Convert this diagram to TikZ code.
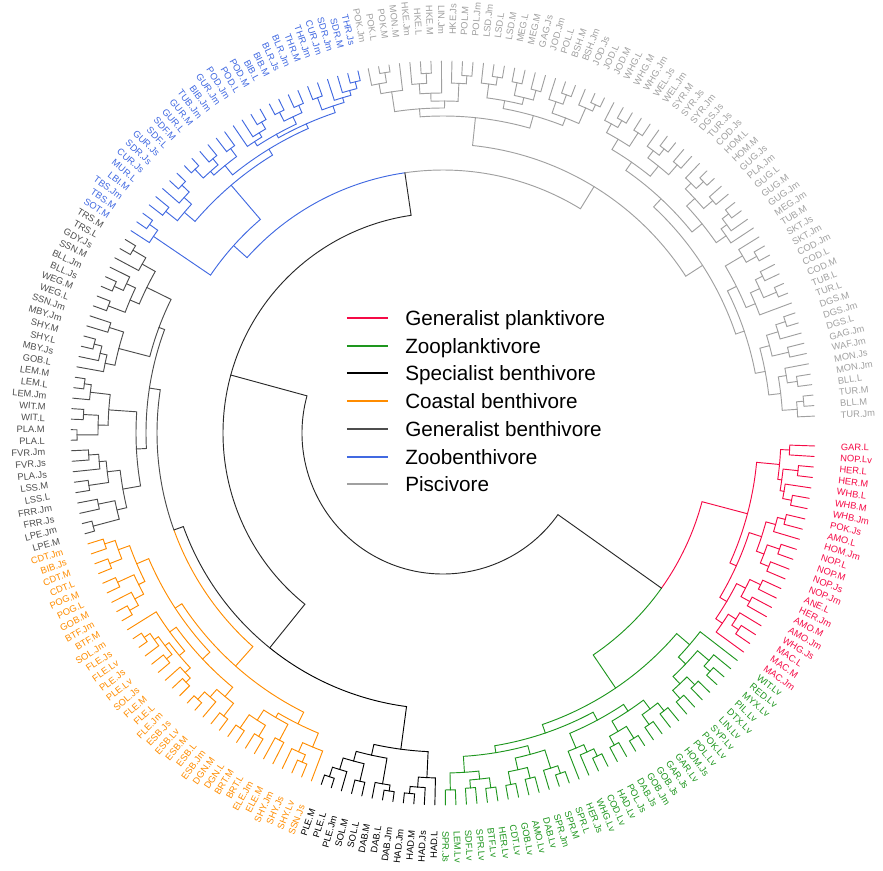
\documentclass[tikz,border=0pt]{standalone}
\usepackage{fontspec}
\setmainfont{Liberation Sans}
\definecolor{cR}{RGB}{245,10,70}
\definecolor{cG}{RGB}{30,150,30}
\definecolor{cK}{RGB}{0,0,0}
\definecolor{cO}{RGB}{255,140,0}
\definecolor{cD}{RGB}{77,77,77}
\definecolor{cB}{RGB}{65,105,225}
\definecolor{cP}{RGB}{160,160,160}
\definecolor{kk}{RGB}{40,40,40}
\newcount\lfc
\newcommand\LF[2]{%
 \pgfmathsetmacro\lfA{-2.0-1.6228*\the\lfc}%
 \expandafter\xdef\csname tA@\the\lfc\endcsname{\lfA}%
 \expandafter\xdef\csname tR@\the\lfc\endcsname{372}%
 \expandafter\xdef\csname tC@\the\lfc\endcsname{#2}%
 \pgfmathsetmacro\lfN{mod(\lfA+720,360)}%
 \ifdim\lfN pt>90pt\relax
   \ifdim\lfN pt<270pt\relax
     \pgfmathsetmacro\lfR{\lfN+180}\def\lfX{east}%
   \else \let\lfR\lfN\def\lfX{west}\fi
 \else \let\lfR\lfN\def\lfX{west}\fi
 \node[lab,text=#2,rotate=\lfR,anchor=\lfX] (L\the\lfc) at (\lfA:398) {#1};
 \global\advance\lfc by 1\relax
}
\def\cc{kk}
\newcommand\MG[4]{%
 \edef\mgA{\csname tA@#2\endcsname}%
 \edef\mgB{\csname tA@#3\endcsname}%
 \edef\mgRa{\csname tR@#2\endcsname}%
 \edef\mgRb{\csname tR@#3\endcsname}%
 \edef\mgCa{\csname tC@#2\endcsname}%
 \edef\mgCb{\csname tC@#3\endcsname}%
 \pgfmathsetmacro\mgM{(\mgA+\mgB)/2}%
 \draw[br,draw=\mgCa] (\mgA:\mgRa) -- (\mgA:#4) arc[start angle=\mgA,end angle=\mgM,radius=#4];
 \draw[br,draw=\mgCb] (\mgM:#4) arc[start angle=\mgM,end angle=\mgB,radius=#4] -- (\mgB:\mgRb);
 \expandafter\xdef\csname tA@#1\endcsname{\mgM}%
 \expandafter\xdef\csname tR@#1\endcsname{#4}%
 \expandafter\xdef\csname tC@#1\endcsname{\cc}%
}
\tikzset{
 lab/.style={font=\fontsize{7}{8}\selectfont,inner sep=0pt},
 br/.style={line width=0.7pt,line cap=round},
 lgline/.style={line width=2pt},
 lgtext/.style={font=\fontsize{15.5}{18}\selectfont,inner sep=0pt,anchor=base west}
}
\begin{document}
\begin{tikzpicture}[x=0.75pt,y=0.75pt]
\path[use as bounding box] (-443,-438) rectangle (440,433);
% ---- leaves
\foreach \t in {GAR.L,NOP.Lv,HER.L,HER.M,WHB.L,WHB.M,WHB.Jm,POK.Js,AMO.L,HOM.Jm,NOP.L,NOP.M,NOP.Js,NOP.Jm,ANE.L,HER.Jm,AMO.M,AMO.Jm,WHG.Js,MAC.L,MAC.M,MAC.Jm}{\LF{\t}{cR}}
\foreach \t in {WIT.Lv,RED.Lv,MYX.Lv,PIL.Lv,DTX.Lv,LIN.Lv,SYP.Lv,POK.Lv,POL.Lv,HOM.Js,GAR.Lv,GAR.Js,GOB.Js,GOB.Jm,DAB.Js,POL.Js,HAD.Lv,COD.Lv,WHG.Lv,HER.Js,SPR.L,SPR.M,SPR.Jm,DAB.Lv,AMO.Lv,GOB.Lv,CDT.Lv,HER.Lv,BTF.Lv,SPR.Lv,SDF.Lv,LEM.Lv,SPR.Js}{\LF{\t}{cG}}
\foreach \t in {HAD.L,HAD.Js,HAD.M,HAD.Jm,DAB.Jm,DAB.L,DAB.M,SOL.L,SOL.M,PLE.Jm,PLE.L,PLE.M}{\LF{\t}{cK}}
\foreach \t in {SSN.Js,SHY.Lv,SHY.Js,SHY.Jm,ELE.M,ELE.Jm,BRT.L,BRT.M,DGN.L,DGN.M,ESB.Jm,ESB.L,ESB.M,ESB.Lv,ESB.Js,FLE.Jm,FLE.L,FLE.M,SOL.Js,PLE.Lv,PLE.Js,FLE.Lv,FLE.Js,SOL.Jm,BTF.M,BTF.Jm,GOB.M,POG.L,POG.M,CDT.L,CDT.M,BIB.Js,CDT.Jm}{\LF{\t}{cO}}
\foreach \t in {LPE.M,LPE.Jm,FRR.Js,FRR.Jm,LSS.L,LSS.M,PLA.Js,FVR.Js,FVR.Jm,PLA.L,PLA.M,WIT.L,WIT.M,LEM.Jm,LEM.L,LEM.M,GOB.L,MBY.Js,SHY.L,SHY.M,MBY.Jm,SSN.Jm,WEG.L,WEG.M,BLL.Js,BLL.Jm,SSN.M,GDY.Js,TRS.L,TRS.M}{\LF{\t}{cD}}
\foreach \t in {SOT.M,TBS.M,TBS.Jm,LBI.M,MUR.L,CUR.Js,SDR.Js,GUR.Js,SDF.L,SDF.M,GUR.L,GUR.M,TUB.Jm,BIB.Jm,GUR.Jm,POD.Jm,POD.L,POD.M,BIB.L,BIB.M,BLR.Js,BLR.Jm,THR.M,THR.Jm,CUR.Jm,SDR.Jm,SDR.M,THR.Js}{\LF{\t}{cB}}
\foreach \t in {POK.Jm,POK.L,POK.M,MON.M,HKE.Jm,HKE.L,HKE.M,LIN.Jm,HKE.Js,POL.M,POL.Jm,LSD.Jm,LSD.L,LSD.M,MEG.L,MEG.M,GAG.Js,JOD.Jm,POL.L,BSH.M,BSH.Jm,JOD.Js,JOD.L,JOD.M,WHG.L,WHG.M,WHG.Jm,WEL.Js,WEL.Jm,SYR.M,SYR.Js,SYR.Jm,DGS.Js,TUR.Js,COD.Js,HOM.L,HOM.M,GUG.Js,PLA.Jm,GUG.L,GUG.M,GUG.Jm,MEG.Jm,TUB.M,SKT.Js,SKT.Jm,COD.Jm,COD.L,COD.M,TUB.L,TUR.L,DGS.M,DGS.Jm,DGS.L,GAG.Jm,WAF.Jm,MON.Js,MON.Jm,BLL.L,TUR.M,BLL.M,TUR.Jm}{\LF{\t}{cP}}
% ---- red
\def\cc{cR}
\MG{ra}{0}{1}{347}\MG{rb}{2}{3}{357}\MG{rc}{5}{6}{355}\MG{rd}{4}{rc}{346}
\MG{re}{rb}{rd}{342}\MG{rA}{ra}{re}{338}
\MG{rf}{7}{8}{353}\MG{rg}{rf}{9}{345}\MG{rh}{10}{11}{356}\MG{ri}{12}{13}{352}
\MG{rj}{rh}{ri}{343}\MG{rB}{rg}{rj}{335}
\MG{rk}{14}{15}{352}\MG{rl}{16}{17}{350}\MG{rm}{rk}{rl}{340}
\MG{rn}{19}{20}{355}\MG{ro}{18}{rn}{347}\MG{rp}{ro}{21}{338}
\MG{rC}{rm}{rp}{330}\MG{rBC}{rB}{rC}{322}\MG{RED}{rA}{rBC}{315}
% ---- green
\def\cc{cG}
\MG{ga}{24}{25}{358}\MG{gb}{23}{ga}{350}\MG{gc}{26}{27}{356}\MG{gd}{28}{29}{356}
\MG{ge}{gc}{gd}{345}\MG{gf}{gb}{ge}{335}\MG{gA}{22}{gf}{325}
\MG{gg}{30}{31}{355}\MG{gh}{32}{33}{357}\MG{gi}{gg}{gh}{345}
\MG{gj}{34}{35}{360}\MG{gk}{36}{37}{356}\MG{gl}{gj}{gk}{346}\MG{gm}{gi}{gl}{334}
\MG{gn}{38}{39}{358}\MG{go}{gn}{40}{350}\MG{gp}{go}{41}{342}\MG{gB}{gm}{gp}{326}
\MG{gq}{42}{43}{360}\MG{gr}{gq}{44}{352}\MG{gs}{45}{46}{356}\MG{gt}{47}{48}{358}
\MG{gu}{gs}{gt}{345}\MG{gv}{gr}{gu}{333}
\MG{gw}{49}{50}{358}\MG{gx}{51}{52}{356}\MG{gy}{gw}{gx}{348}\MG{gz}{53}{54}{357}
\MG{gzz}{gy}{gz}{340}\MG{gC}{gv}{gzz}{324}\MG{gBC}{gB}{gC}{317}\MG{GREEN}{gA}{gBC}{308}
% ---- black
\def\cc{cK}
\MG{ka}{57}{58}{362}\MG{kb}{56}{ka}{355}\MG{kH}{55}{kb}{345}
\MG{kc}{59}{60}{362}\MG{kD}{kc}{61}{356}
\MG{kd}{62}{63}{358}\MG{ke}{65}{66}{362}\MG{kf}{64}{ke}{352}\MG{kS}{kd}{kf}{340}
\MG{kDS}{kD}{kS}{330}\MG{BLACK}{kH}{kDS}{319}
% ---- orange
\def\cc{cO}
\MG{oa}{68}{69}{358}\MG{ob}{oa}{70}{350}\MG{o1}{67}{ob}{340}
\MG{oc}{71}{72}{348}\MG{od}{73}{74}{355}\MG{oe}{75}{76}{358}\MG{of}{od}{oe}{342}
\MG{o2}{oc}{of}{330}\MG{o12}{o1}{o2}{325}
\MG{og}{77}{78}{358}\MG{oh}{80}{81}{362}\MG{oi}{79}{oh}{352}\MG{o3}{og}{oi}{342}
\MG{oj}{82}{83}{358}\MG{ok}{oj}{84}{352}\MG{ol}{85}{86}{357}\MG{om}{88}{89}{362}
\MG{on}{87}{om}{355}\MG{oo}{ol}{on}{350}\MG{op}{ok}{oo}{345}\MG{o4}{op}{90}{338}
\MG{o34}{o3}{o4}{330}
\MG{oq}{91}{92}{360}\MG{or}{oq}{93}{350}\MG{os}{94}{95}{358}\MG{ot}{or}{os}{340}
\MG{ou}{96}{97}{358}\MG{ov}{98}{99}{356}\MG{ow}{ou}{ov}{345}\MG{o5}{ot}{ow}{333}
\MG{o345}{o34}{o5}{320}\MG{ORANGE}{o12}{o345}{312}
% ---- dark grey
\def\cc{cD}
\MG{da}{100}{101}{362}\MG{db}{102}{103}{352}\MG{d1}{da}{db}{335}
\MG{dc}{104}{105}{358}\MG{dd}{107}{108}{355}\MG{de}{106}{dd}{345}\MG{d2}{dc}{de}{338}
\MG{d12}{d1}{d2}{325}
\MG{df}{109}{110}{366}\MG{dg}{111}{112}{360}\MG{d3}{df}{dg}{345}
\MG{dh}{114}{115}{362}\MG{di}{113}{dh}{355}\MG{d3b}{d3}{di}{335}\MG{d123}{d12}{d3b}{307}
\MG{dj}{118}{119}{360}\MG{dk}{117}{dj}{352}\MG{dl}{116}{dk}{345}\MG{dm}{120}{121}{350}
\MG{d4}{dl}{dm}{335}
\MG{dn}{122}{123}{358}\MG{do}{124}{125}{360}\MG{dp}{do}{126}{350}\MG{d5}{dn}{dp}{340}
\MG{dq}{128}{129}{360}\MG{d6}{127}{dq}{345}\MG{d56}{d5}{d6}{330}\MG{d456}{d4}{d56}{303}
\MG{DKG}{d123}{d456}{297}
% ---- blue
\def\cc{cB}
\MG{ba}{131}{132}{360}\MG{bb}{130}{ba}{350}\MG{bc}{133}{134}{355}\MG{bd}{136}{137}{360}
\MG{be}{135}{bd}{350}\MG{bf}{bc}{be}{340}
\MG{bg}{138}{139}{362}\MG{bh}{140}{141}{358}\MG{bi}{bg}{bh}{350}\MG{bj}{142}{143}{355}
\MG{bA}{bi}{bj}{345}
\MG{bk}{146}{147}{360}\MG{bl}{145}{bk}{352}\MG{bm}{144}{bl}{347}
\MG{bn}{148}{149}{360}\MG{bo}{150}{151}{358}\MG{bp}{bn}{bo}{350}\MG{bB}{bm}{bp}{342}
\MG{bq}{152}{153}{358}\MG{br}{156}{157}{362}\MG{bs}{155}{br}{355}\MG{bt}{154}{bs}{350}
\MG{bC}{bq}{bt}{345}\MG{bBC}{bB}{bC}{338}\MG{bB2}{bA}{bBC}{333}
\MG{bRest}{bf}{bB2}{326}\MG{BLUE}{bb}{bRest}{281}
% ---- piscivore
\def\cc{cP}
\MG{pa}{159}{160}{365}\MG{pb}{158}{pa}{355}\MG{pc}{pb}{161}{345}
\MG{pd}{163}{164}{360}\MG{pe}{162}{pd}{350}\MG{pf}{pe}{165}{340}
\MG{pg}{167}{168}{358}\MG{ph}{166}{pg}{350}\MG{pi}{pf}{ph}{332}\MG{pP1}{pc}{pi}{325}
\MG{pj}{170}{171}{360}\MG{pk}{169}{pj}{352}\MG{pl}{172}{173}{358}\MG{pm}{174}{175}{355}
\MG{pn}{pl}{pm}{345}\MG{po}{pk}{pn}{338}
\MG{pp}{177}{178}{360}\MG{pq}{176}{pp}{350}\MG{pr}{180}{181}{362}\MG{ps}{179}{pr}{355}
\MG{pt}{pq}{ps}{338}\MG{pP2}{po}{pt}{330}
\MG{qa}{183}{184}{360}\MG{qb}{182}{qa}{352}\MG{qc}{185}{186}{358}\MG{qd}{qb}{qc}{342}
\MG{qe}{188}{189}{360}\MG{qf}{187}{qe}{352}\MG{qg}{190}{191}{356}\MG{qh}{qf}{qg}{343}
\MG{qi}{qd}{qh}{330}
\MG{qj}{193}{194}{362}\MG{qk}{192}{qj}{352}\MG{ql}{195}{196}{356}\MG{qm}{qk}{ql}{344}
\MG{qn}{197}{198}{360}\MG{qo}{qn}{199}{352}\MG{qp}{qo}{200}{345}\MG{qq}{qm}{qp}{333}
\MG{pP3}{qi}{qq}{320}
\MG{sa}{202}{203}{360}\MG{sb}{201}{sa}{348}\MG{sc}{204}{205}{356}\MG{sd}{206}{207}{362}
\MG{se}{sc}{sd}{348}\MG{sf}{se}{208}{338}\MG{sg}{sb}{sf}{328}
\MG{sh}{209}{210}{360}\MG{si}{sh}{211}{350}\MG{sj}{212}{213}{355}\MG{sk}{si}{sj}{338}
\MG{sl}{215}{216}{358}\MG{sm}{214}{sl}{348}\MG{sn}{217}{218}{362}\MG{so}{sn}{219}{355}
\MG{sp}{sm}{so}{340}\MG{sq}{sk}{sp}{328}\MG{pP4}{sg}{sq}{318}
\MG{pP34}{pP3}{pP4}{309}\MG{pP12}{pP1}{pP2}{317}\MG{GRAY}{pP12}{pP34}{289}
% ---- upper levels
\def\cc{kk}
\MG{RG}{RED}{GREEN}{268}
\MG{OD}{ORANGE}{DKG}{286}
\MG{BO}{BLACK}{OD}{276}
\MG{TOP}{BLUE}{GRAY}{263}
\MG{XX}{BO}{TOP}{220}
\MG{ROOT}{RG}{XX}{141}
% ---- legend
\foreach \n/\y/\c/\t in {1/115/cR/Generalist planktivore,2/87/cG/Zooplanktivore,3/60/cK/Specialist benthivore,4/32/cO/Coastal benthivore,5/4/cD/Generalist benthivore,6/-24/cB/Zoobenthivore,7/-51/cP/Piscivore}{
 \coordinate (la\n) at (-96,\y);
 \coordinate (lb\n) at (-55,\y);
 \draw[lgline,draw=\c] (la\n) -- (lb\n);
 \node[lgtext] (lt\n) at (-38,\y-7.4) {\t};
}
\end{tikzpicture}
\end{document}
